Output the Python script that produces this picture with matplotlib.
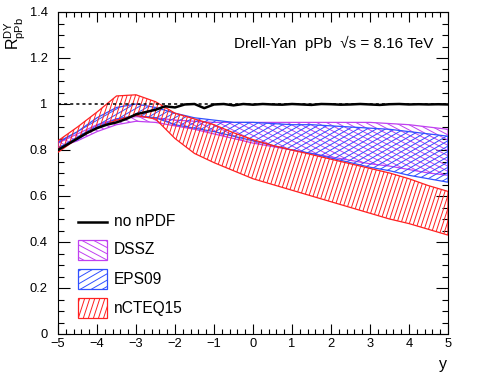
import numpy as np
import matplotlib
matplotlib.use("Agg")
import matplotlib.pyplot as plt
from matplotlib.collections import LineCollection
from matplotlib.patches import Rectangle, PathPatch
from matplotlib.transforms import Affine2D
from matplotlib.ticker import MultipleLocator, FuncFormatter

plt.rcParams['font.family'] = ['Liberation Sans', 'DejaVu Sans']
plt.rcParams['mathtext.fontset'] = 'custom'
plt.rcParams['mathtext.rm'] = 'Liberation Sans'
plt.rcParams['mathtext.it'] = 'Liberation Sans:italic'

# ---------------- data ----------------
y_band = [-5.0, -4.5, -4.0, -3.5, -3.0, -2.5, -2.0, -1.5, -1.0, -0.5, 0.0,
          0.5, 1.0, 1.5, 2.0, 2.5, 3.0, 3.5, 4.0, 4.5, 5.0]

dssz_hi = [0.83, 0.87, 0.91, 0.935, 0.945, 0.94, 0.93, 0.925, 0.92, 0.92, 0.92,
           0.92, 0.92, 0.92, 0.92, 0.92, 0.92, 0.915, 0.91, 0.90, 0.89]
dssz_lo = [0.81, 0.84, 0.88, 0.91, 0.925, 0.92, 0.905, 0.89, 0.87, 0.85, 0.83,
           0.815, 0.80, 0.785, 0.77, 0.755, 0.74, 0.73, 0.715, 0.70, 0.69]

eps09_hi = [0.835, 0.88, 0.94, 0.985, 1.0, 0.985, 0.96, 0.94, 0.93, 0.92, 0.92,
            0.915, 0.91, 0.91, 0.905, 0.90, 0.895, 0.89, 0.88, 0.87, 0.86]
eps09_lo = [0.81, 0.845, 0.90, 0.935, 0.95, 0.94, 0.91, 0.895, 0.88, 0.86, 0.84,
            0.82, 0.80, 0.785, 0.765, 0.745, 0.725, 0.71, 0.69, 0.675, 0.66]

ncteq_hi = [0.84, 0.90, 0.965, 1.035, 1.04, 1.01, 0.96, 0.935, 0.91, 0.875, 0.845,
            0.82, 0.80, 0.78, 0.76, 0.74, 0.72, 0.70, 0.675, 0.645, 0.62]
ncteq_lo = [0.79, 0.85, 0.895, 0.93, 0.95, 0.935, 0.85, 0.785, 0.745, 0.71, 0.675,
            0.65, 0.625, 0.60, 0.575, 0.55, 0.525, 0.50, 0.48, 0.455, 0.43]

y_line = [-5.0, -4.75, -4.5, -4.25, -4.0, -3.75, -3.5, -3.25, -3.0, -2.75, -2.5,
          -2.25, -2.0, -1.75, -1.5, -1.25, -1.0, -0.75, -0.5, -0.25, 0.0,
          0.25, 0.5, 0.75, 1.0, 1.25, 1.5, 1.75, 2.0, 2.25, 2.5, 2.75, 3.0,
          3.25, 3.5, 3.75, 4.0, 4.25, 4.5, 4.75, 5.0]
no_npdf = [0.80, 0.825, 0.85, 0.875, 0.895, 0.91, 0.92, 0.935, 0.955, 0.965, 0.975,
           0.99, 0.985, 0.998, 1.0, 0.982, 0.998, 1.0, 0.994, 1.0, 0.997,
           1.0, 0.998, 0.997, 1.0, 0.998, 0.996, 1.0, 0.999, 0.997, 0.998, 1.0, 0.998,
           0.996, 0.999, 1.0, 0.998, 0.999, 0.998, 0.999, 0.998]

labels = ['no nPDF', 'DSSZ', 'EPS09', 'nCTEQ15']
c_dssz = '#c040f0'
c_eps = '#3050ff'
c_ncteq = '#ff2020'

# ---------------- figure ----------------
W_FIG, H_FIG = 480, 380
fig = plt.figure(figsize=(4.8, 3.8), dpi=100)
AX_L, AX_B, AX_W, AX_H = 58, 46, 390, 322
ax = fig.add_axes([AX_L / W_FIG, AX_B / H_FIG, AX_W / W_FIG, AX_H / H_FIG])
ax.set_xlim(-5, 5)
ax.set_ylim(0, 1.4)

pix = Affine2D().scale(1.0 / AX_W, 1.0 / AX_H) + ax.transAxes


def hatch(clip_patch, angle_deg, spacing, color, lw=0.7, zorder=2):
    th = np.deg2rad(angle_deg)
    d = np.array([np.cos(th), np.sin(th)])
    n = np.array([-np.sin(th), np.cos(th)])
    corners = np.array([[0, 0], [AX_W, 0], [0, AX_H], [AX_W, AX_H]], float)
    proj = corners @ n
    cs = np.arange(np.floor(proj.min() / spacing) * spacing, proj.max() + spacing, spacing)
    L = AX_W + AX_H
    segs = [[c * n - L * d, c * n + L * d] for c in cs]
    lc = LineCollection(segs, colors=color, linewidths=lw, transform=pix, zorder=zorder)
    ax.add_collection(lc, autolim=False)
    lc.set_clip_path(clip_patch)


bands = [(dssz_lo, dssz_hi, c_dssz, -28, 4.6),
         (eps09_lo, eps09_hi, c_eps, 30, 4.6),
         (ncteq_lo, ncteq_hi, c_ncteq, 72, 4.0)]
for i, (lo, hi, col, ang, sp) in enumerate(bands):
    poly = ax.fill_between(y_band, lo, hi, facecolor='none', edgecolor=col,
                           linewidth=0.9, zorder=3 + i)
    clip = PathPatch(poly.get_paths()[0], transform=ax.transData,
                     facecolor='none', edgecolor='none')
    ax.add_patch(clip)
    hatch(clip, ang, sp, col, zorder=2 + i)

ax.axhline(1.0, color='black', lw=1.1, ls=(0, (2, 2)), zorder=6)
ax.plot(y_line, no_npdf, color='black', lw=1.8, zorder=7)

# ---------------- legend (manual, ROOT-like) ----------------
def ax_xy(px, py):
    return (px - AX_L) / AX_W, (334 - py) / AX_H

rows = [222, 250, 279, 308]
x0, x1, x_txt = 78, 107, 114
lx0, ly = ax_xy(x0, rows[0])
lx1, _ = ax_xy(x1, rows[0])
ax.plot([lx0, lx1], [ly, ly], color='black', lw=1.8, transform=ax.transAxes, zorder=8)
for (lo, hi, col, ang, sp), py in zip(bands, rows[1:]):
    bx, by = ax_xy(x0, py + 10)
    bx1, by1 = ax_xy(x1, py - 10)
    rect = Rectangle((bx, by), bx1 - bx, by1 - by, transform=ax.transAxes,
                     facecolor='none', edgecolor=col, lw=0.9, zorder=8)
    ax.add_patch(rect)
    hatch(rect, ang, sp * 1.2, col, zorder=8)
for lab, py in zip(labels, rows):
    tx, ty = ax_xy(x_txt, py)
    ax.text(tx, ty, lab, transform=ax.transAxes, fontsize=11.2, va='center', ha='left')

# ---------------- text ----------------
tx, ty = ax_xy(433, 48)
ax.text(tx, ty, 'Drell-Yan  pPb  \u221as = 8.16 TeV', transform=ax.transAxes,
        fontsize=11, ha='right', va='baseline')

fig.text(15 / W_FIG, (H_FIG - 17) / H_FIG, r'$\mathrm{R}^{\mathrm{DY}}_{\mathrm{pPb}}$',
         rotation=90, fontsize=11.5, ha='center', va='top')
fig.text(447 / W_FIG, (H_FIG - 369) / H_FIG, 'y', fontsize=11.5, ha='right', va='baseline')

# ---------------- axes styling ----------------
ax.xaxis.set_major_locator(MultipleLocator(1))
ax.xaxis.set_minor_locator(MultipleLocator(0.2))
ax.yaxis.set_major_locator(MultipleLocator(0.2))
ax.yaxis.set_minor_locator(MultipleLocator(0.05))
ax.yaxis.set_major_formatter(FuncFormatter(lambda v, p: '%g' % round(v, 2)))
ax.xaxis.set_major_formatter(FuncFormatter(lambda v, p: ('%g' % v).replace('-', '\u2212')))
ax.tick_params(which='both', direction='in', top=True, right=True, width=0.8,
               labelsize=9.3)
ax.tick_params(axis='x', which='major', length=7, pad=3)
ax.tick_params(axis='x', which='minor', length=3.5)
ax.tick_params(axis='y', which='major', length=8.5, pad=7.5)
ax.tick_params(axis='y', which='minor', length=4.2)
for s in ax.spines.values():
    s.set_linewidth(0.8)

fig.savefig('out.png', dpi=100)
